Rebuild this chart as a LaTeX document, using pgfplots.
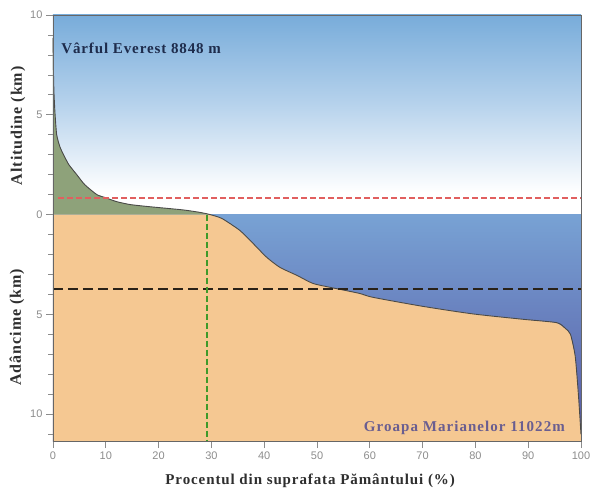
\documentclass[border=0pt]{standalone}
\usepackage{fontspec}
\setmainfont{Liberation Serif}
\newfontfamily\tickfont{Liberation Sans}
\usepackage{pgfplots}
\pgfplotsset{compat=1.18}
\definecolor{skytop}{HTML}{78ACDA}
\definecolor{skymid}{HTML}{B6D2EC}
\definecolor{oceantop}{HTML}{78A2D4}
\definecolor{oceanbot}{HTML}{5658A4}
\definecolor{landgreen}{HTML}{8EA27A}
\definecolor{landtan}{HTML}{F5C892}
\definecolor{curvecol}{HTML}{4A4A48}
\definecolor{navytext}{HTML}{1E2C4C}
\definecolor{purpletext}{HTML}{6A5E90}
\definecolor{labelcol}{HTML}{2E2E2E}
\definecolor{greendash}{HTML}{3E9A2A}
\definecolor{blackdash}{HTML}{2A2218}
\begin{document}
\begin{tikzpicture}
\begin{axis}[
  scale only axis, width=528pt, height=426pt,
  xmin=0, xmax=100, ymin=-11.35, ymax=10,
  xtick={0,10,...,100},
  ytick={-10,-5,0,5,10}, yticklabels={10,5,0,5,10},
  minor ytick={-11,-10,...,9},
  tick align=outside,
  xtick pos=bottom, ytick pos=left,
  major tick length=7pt, minor tick length=5pt,
  tick style={black!45, line width=0.7pt},
  ticklabel style={font=\tickfont\fontsize{11}{13}\selectfont, text=black!45},
  /pgf/number format/assume math mode=true,
  axis line style={draw=black!60, line width=0.9pt},
  axis on top,
  clip=false,
]
% sky
\addplot[draw=none, top color=skytop, bottom color=white, middle color=skymid] coordinates {(0,1.1) (100,1.1) (100,10) (0,10)} -- cycle;
% ocean
\addplot[draw=none, top color=oceantop, bottom color=oceanbot] coordinates {(0,0) (100,0) (100,-11.35) (0,-11.35)} -- cycle;
% land above sea level
\addplot[draw=none, fill=landgreen] coordinates {
 (0,8.85) (0.1,7) (0.2,6) (0.4,5) (0.7,4) (1.3,3.4) (2,3) (3,2.5) (4.5,2) (6,1.5) (8.3,1) (10,0.84) (12,0.65) (14.6,0.5) (18,0.4) (22,0.3) (25,0.22) (28,0.1) (29.7,0) (0,0)} -- cycle;
% land below sea level
\addplot[draw=none, fill=landtan] coordinates {
 (0,0) (29.7,0) (32,-0.2) (35.4,-0.8) (37.9,-1.45) (40.5,-2.15) (43,-2.65) (46.2,-3.05) (49.2,-3.45) (52.5,-3.65) (58,-3.95) (60.6,-4.15) (70,-4.6) (79.5,-4.98) (89,-5.25) (95.4,-5.42) (97,-5.7) (98,-6.0) (98.9,-7.1) (99.5,-9) (100,-11.02) (100,-11.35) (0,-11.35)} -- cycle;
% hypsometric curve
\addplot[draw=curvecol, line width=0.9pt, smooth, tension=0.4] coordinates {
 (0,8.85) (0.1,7) (0.2,6) (0.4,5) (0.7,4) (1.3,3.4) (2,3) (3,2.5) (4.5,2) (6,1.5) (8.3,1) (10,0.84) (12,0.65) (14.6,0.5) (18,0.4) (22,0.3) (25,0.22) (28,0.1) (29.7,0)
 (32,-0.2) (35.4,-0.8) (37.9,-1.45) (40.5,-2.15) (43,-2.65) (46.2,-3.05) (49.2,-3.45) (52.5,-3.65) (58,-3.95) (60.6,-4.15) (70,-4.6) (79.5,-4.98) (89,-5.25) (95.4,-5.42) (97,-5.7) (98,-6.0) (98.9,-7.1) (99.5,-9) (100,-11.02)};
% mean land elevation
\addplot[draw={rgb,255:red,225;green,95;blue,95}, line width=1.6pt, dash pattern=on 6pt off 3pt] coordinates {(1,0.84) (100,0.84)};
% mean ocean depth
\addplot[color=blackdash, line width=2.2pt, dash pattern=on 10pt off 5pt] coordinates {(0,-3.73) (100,-3.73)};
% land fraction
\addplot[color=greendash, line width=1.6pt, dash pattern=on 6pt off 3pt] coordinates {(29.2,0) (29.2,-11.35)};
% texts
\node[anchor=west, font=\bfseries\fontsize{15}{17}\selectfont\addfontfeature{LetterSpace=6}, text=navytext] at (axis cs:0.9,8.35) {Vârful Everest 8848 m};
\node[anchor=east, font=\bfseries\fontsize{15}{17}\selectfont\addfontfeature{LetterSpace=7}, text=purpletext] at (axis cs:97.6,-10.7) {Groapa Marianelor 11022m};
\node[rotate=90, font=\bfseries\fontsize{16}{18}\selectfont\addfontfeature{LetterSpace=6}, text=labelcol] at ([xshift=-35pt]axis cs:0,4.45) {Altitudine (km)};
\node[rotate=90, font=\bfseries\fontsize{16}{18}\selectfont\addfontfeature{LetterSpace=6}, text=labelcol] at ([xshift=-36pt]axis cs:0,-5.65) {Adâncime (km)};
\node[font=\bfseries\fontsize{15}{17}\selectfont\addfontfeature{LetterSpace=6}, text=labelcol] at ([yshift=-40pt]axis cs:48.7,-11.35) {Procentul din suprafata Pământului (\%)};
\end{axis}
\pgfresetboundingbox
\path[use as bounding box] ([shift={(-53pt,-51pt)}]current axis.south west) rectangle ([shift={(10pt,15pt)}]current axis.north east);
\end{tikzpicture}
\end{document}
